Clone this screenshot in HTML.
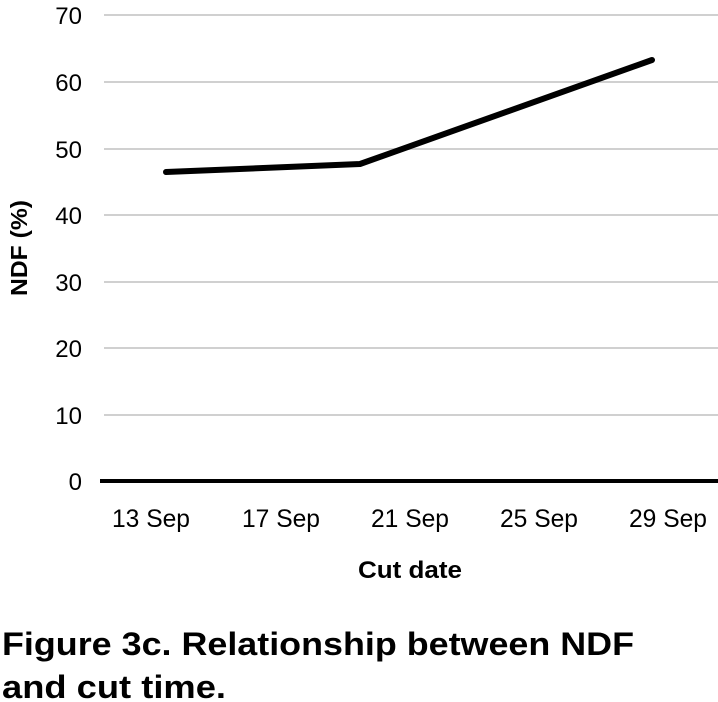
<!DOCTYPE html>
<html><head><meta charset="utf-8"><style>
html,body{margin:0;padding:0;background:#fff;}
svg{display:block;font-family:"Liberation Sans",sans-serif;}
</style></head><body>
<svg width="718" height="702" viewBox="0 0 718 702">
<g stroke="#d0d0d0" stroke-width="2">
<line x1="104" x2="718" y1="15" y2="15"/>
<line x1="104" x2="718" y1="82" y2="82"/>
<line x1="104" x2="718" y1="149" y2="149"/>
<line x1="104" x2="718" y1="215" y2="215"/>
<line x1="104" x2="718" y1="282" y2="282"/>
<line x1="104" x2="718" y1="348" y2="348"/>
<line x1="104" x2="718" y1="415" y2="415"/>
</g>
<line x1="100" x2="718" y1="481" y2="481" stroke="#000" stroke-width="4"/>
<g font-size="24" text-anchor="end" fill="#000">
<text x="82" y="24">70</text>
<text x="82" y="91">60</text>
<text x="82" y="158">50</text>
<text x="82" y="224">40</text>
<text x="82" y="291">30</text>
<text x="82" y="357">20</text>
<text x="82" y="424">10</text>
<text x="82" y="490">0</text>
</g>
<g font-size="25" text-anchor="middle">
<text x="151" y="527" textLength="78" lengthAdjust="spacingAndGlyphs">13 Sep</text>
<text x="281" y="527" textLength="78" lengthAdjust="spacingAndGlyphs">17 Sep</text>
<text x="410" y="527" textLength="78" lengthAdjust="spacingAndGlyphs">21 Sep</text>
<text x="539" y="527" textLength="78" lengthAdjust="spacingAndGlyphs">25 Sep</text>
<text x="668" y="527" textLength="78" lengthAdjust="spacingAndGlyphs">29 Sep</text>
</g>
<text x="410" y="578" font-size="24" font-weight="bold" text-anchor="middle" textLength="104" lengthAdjust="spacingAndGlyphs">Cut date</text>
<text transform="translate(27,248) rotate(-90)" font-size="23" font-weight="bold" text-anchor="middle" textLength="96" lengthAdjust="spacingAndGlyphs">NDF (%)</text>
<polyline points="166,172 360,164 652,60" fill="none" stroke="#000" stroke-width="6" stroke-linecap="round" stroke-linejoin="round"/>
<text x="2" y="655" font-size="32" font-weight="bold" textLength="632" lengthAdjust="spacingAndGlyphs">Figure 3c. Relationship between NDF</text>
<text x="2" y="698" font-size="32" font-weight="bold" textLength="224" lengthAdjust="spacingAndGlyphs">and cut time.</text>
</svg>
</body></html>
